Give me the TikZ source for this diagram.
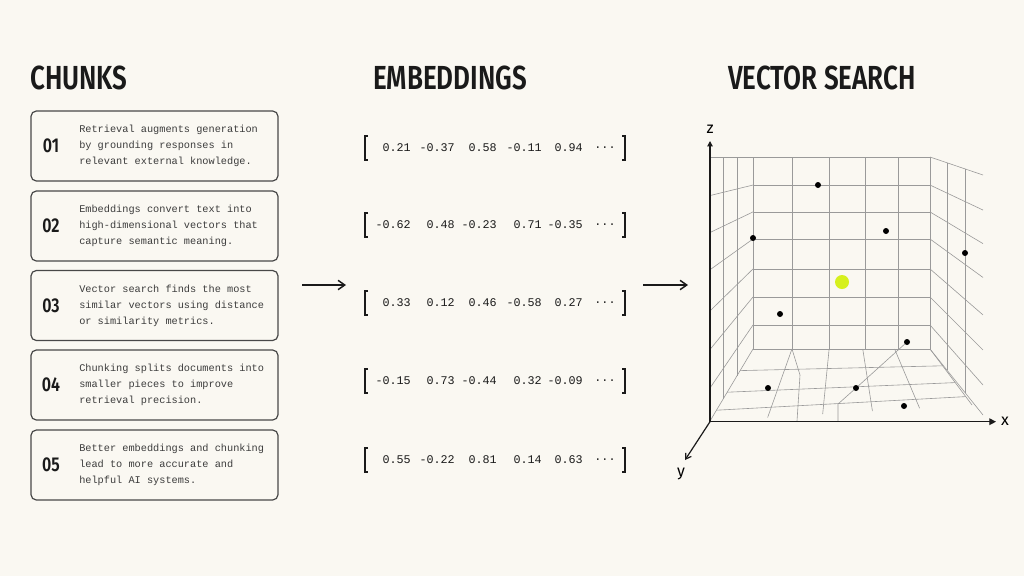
\documentclass[tikz,border=0pt]{standalone}
\usepackage{fontspec}
\setmainfont{Fira Sans}
\newfontfamily\monof{Liberation Mono}
\newfontfamily\headf{Fira Sans}[UprightFont=* SemiBold]
\usetikzlibrary{arrows.meta}
\definecolor{bg}{HTML}{FAF8F2}
\definecolor{ink}{HTML}{1A1A1A}
\definecolor{gridc}{HTML}{9A9A9A}
\definecolor{lime}{HTML}{D6F01E}
\begin{document}
\begin{tikzpicture}[x=0.75pt,y=-0.75pt,
  title/.style={font=\headf\fontsize{25}{25}\selectfont,text=ink,inner sep=0},
  box/.style={draw=ink!80,line width=0.9pt,rounded corners=4pt,minimum width=247*0.75pt,minimum height=70*0.75pt,inner sep=0},
  num/.style={font=\headf\fontsize{15}{15}\selectfont,text=ink,inner sep=0},
  txt/.style={font=\monof\fontsize{7.7}{12}\selectfont,text=ink!85,align=left,anchor=west,inner sep=0},
  val/.style={font=\monof\fontsize{8.8}{10}\selectfont,text=ink,anchor=east,inner sep=0},
  arr/.style={-{Straight Barb[length=5pt,width=7pt]},line width=1.1pt,ink},
  g/.style={gridc,line width=0.45pt},
  dot/.style={fill=black,draw=none}]
\fill[bg] (0,0) rectangle (1024,576);
\useasboundingbox (0,0) rectangle (1024,576);
% titles
\node[title,anchor=west] (t1) at (30,78) {\scalebox{0.78}[1]{CHUNKS}};
\node[title] (t2) at (450,78) {\scalebox{0.78}[1]{EMBEDDINGS}};
\node[title] (t3) at (822,78) {\scalebox{0.78}[1]{VECTOR SEARCH}};
% chunk boxes
\foreach \i/\y/\n/\t in {1/146/01/{Retrieval augments generation\\by grounding responses in\\relevant external knowledge.},
  2/226/02/{Embeddings convert text into\\high-dimensional vectors that\\capture semantic meaning.},
  3/305.5/03/{Vector search finds the most\\similar vectors using distance\\or similarity metrics.},
  4/385/04/{Chunking splits documents into\\smaller pieces to improve\\retrieval precision.},
  5/465/05/{Better embeddings and chunking\\lead to more accurate and\\helpful AI systems.}}{
  \node[box] (b\i) at (154.5,\y) {};
  \node[num] (n\i) at (51,\y) {\scalebox{0.8}[1]{\n}};
  \node[txt] (c\i) at (79,\y) {\t};
}
% embeddings
\foreach \r/\y/\a/\b/\c/\d/\e in {1/148/0.21/-0.37/0.58/-0.11/0.94,
  2/225/-0.62/0.48/-0.23/0.71/-0.35,
  3/303/0.33/0.12/0.46/-0.58/0.27,
  4/381/-0.15/0.73/-0.44/0.32/-0.09,
  5/460/0.55/-0.22/0.81/0.14/0.63}{
  \draw[ink,line width=0.8pt] (368,\y-12) -- (365,\y-12) -- (365,\y+12) -- (368,\y+12);
  \draw[ink,line width=0.8pt] (622,\y-12) -- (625,\y-12) -- (625,\y+12) -- (622,\y+12);
  \node[val] (e\r a) at (411,\y) {\a};
  \node[val] (e\r b) at (455,\y) {\b};
  \node[val] (e\r c) at (497,\y) {\c};
  \node[val] (e\r d) at (542,\y) {\d};
  \node[val] (e\r e) at (583,\y) {\e};
  \node[val,anchor=center] (e\r f) at (605,\y) {...};
}
% arrows
\coordinate (a1s) at (302,285); \coordinate (a1e) at (346,285);
\coordinate (a2s) at (643,285); \coordinate (a2e) at (688,285);
\draw[arr] (a1s) -- (a1e);
\draw[arr] (a2s) -- (a2e);
% 3D grid
% back wall
\foreach \x in {753,792,829,865,898,930} \draw[g] (\x,157) -- (\x,349);
\foreach \y in {157,185,212,239,269,297,325,349} \draw[g] (753,\y) -- (930,\y);
% left wall (front x=710 top157 bottom421, back x=753 top157 bottom349)
\foreach \f in {0,0.146,0.286,0.427,0.583,0.729,0.875}
  \draw[g] (710,{157+\f*264}) -- (753,{157+\f*192});
\foreach \x/\f in {723/0.3,737/0.63} \draw[g] (\x,157) -- (\x,{421-\f*72});
% right wall (back x=930 157..349, front x=983 175..415)
\foreach \f in {0,0.146,0.286,0.427,0.583,0.729,0.875,1}
  \draw[g] (930,{157+\f*192}) -- (983,{175+\f*240});
\foreach \x/\f in {947/0.32,965/0.66} \draw[g] ({\x},{157+\f*18}) -- ({\x},{349+\f*66});
% floor: back (753,349)-(930,349), front (710,421)-(972,405)
\foreach \f in {0.3,0.6,0.85}
  \draw[g] ({753-43*\f},{349+72*\f}) -- ({930+42*\f},{349+56*\f});
\foreach \f in {0,0.22,0.43,0.62,0.8,1}
  \draw[g] ({753+177*\f},349) -- ({710+262*\f},{421-16*\f});
\draw[g] (907,342) -- (856,388) -- (838,404) -- (838,421);
\draw[g] (792,349) -- (800,375) -- (797,421);
% axes
\coordinate (O) at (710,421.7);
\coordinate (Z) at (710,141);
\coordinate (X) at (996,421.7);
\coordinate (Y) at (685,460);
\draw[ink,line width=0.9pt,-{Triangle[length=4pt,width=4pt]}] (O) -- (Z);
\draw[ink,line width=0.9pt,-{Triangle[length=5pt,width=5pt]}] (O) -- (X);
\draw[ink,line width=0.9pt,-{Straight Barb[length=4pt,width=5pt]}] (O) -- (Y);
\node[font=\fontsize{12}{12}\selectfont,inner sep=0] (zl) at (710,129) {z};
\node[font=\fontsize{12}{12}\selectfont,inner sep=0] (xl) at (1005,421) {x};
\node[font=\fontsize{12}{12}\selectfont,inner sep=0] (yl) at (681,474) {y};
% points
\foreach \p/\x/\y in {p1/818/185,p2/886/231,p3/753/238,p4/965/253,p5/780/314,p6/907/342,p7/768/388,p8/856/388,p9/904/406}
  \fill[dot] (\x,\y) circle (3);
\fill[lime] (842,282) circle (7);
\end{tikzpicture}
\end{document}
